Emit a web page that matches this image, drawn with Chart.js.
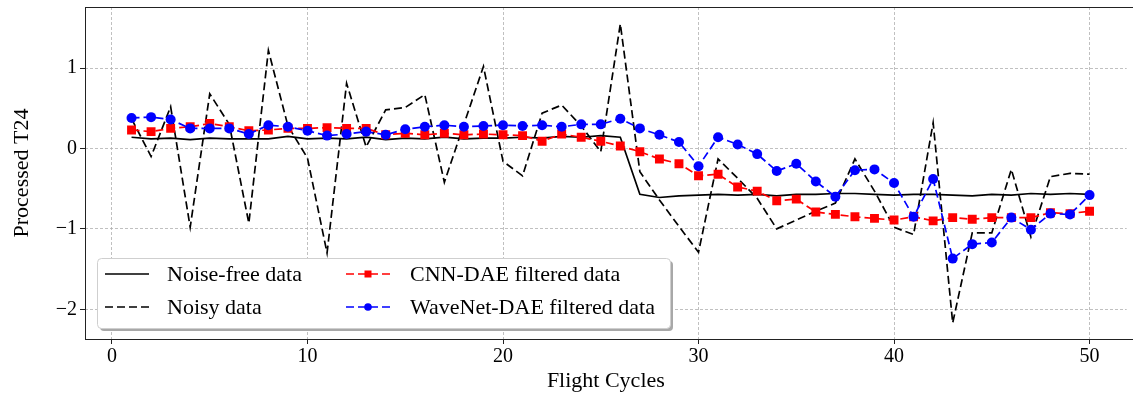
<!DOCTYPE html>
<html>
<head>
<meta charset="utf-8">
<script src="https://cdn.jsdelivr.net/npm/chart.js@4.4.0/dist/chart.umd.min.js"></script>
<style>
html, body { margin: 0; padding: 0; background: #fff; }
#wrap { position: relative; width: 1133px; height: 396px; }
</style>
</head>
<body>
<div id="wrap"><canvas id="t24Chart"></canvas></div>
<script>
var cycles = [1, 2, 3, 4, 5, 6, 7, 8, 9, 10, 11, 12, 13, 14, 15, 16, 17, 18, 19, 20, 21, 22, 23, 24, 25,
              26, 27, 28, 29, 30, 31, 32, 33, 34, 35, 36, 37, 38, 39, 40, 41, 42, 43, 44, 45, 46, 47, 48, 49, 50];

var noiseFree = [0.14, 0.12, 0.13, 0.11, 0.13, 0.12, 0.12, 0.12, 0.15, 0.12, 0.13, 0.12, 0.14, 0.11, 0.13,
                 0.12, 0.14, 0.12, 0.13, 0.13, 0.14, 0.13, 0.15, 0.14, 0.16, 0.14, -0.57, -0.61, -0.59, -0.58,
                 -0.57, -0.58, -0.57, -0.59, -0.57, -0.57, -0.56, -0.56, -0.57, -0.58, -0.57, -0.57, -0.58, -0.59, -0.57,
                 -0.58, -0.56, -0.57, -0.56, -0.57];

var noisy = [0.37, -0.10, 0.52, -0.98, 0.68, 0.30, -0.93, 1.22, 0.28, -0.12, -1.30, 0.81, 0.02, 0.48, 0.51,
             0.67, -0.42, 0.30, 1.02, -0.16, -0.34, 0.44, 0.54, 0.28, -0.04, 1.55, -0.29, -0.64, -0.97, -1.29,
             -0.13, -0.37, -0.62, -1.00, -0.89, -0.78, -0.68, -0.13, -0.53, -0.98, -1.07, 0.32, -2.17, -1.05, -1.05,
             -0.26, -1.10, -0.35, -0.31, -0.32];

var cnnDae = [0.23, 0.21, 0.25, 0.27, 0.31, 0.27, 0.22, 0.23, 0.25, 0.25, 0.26, 0.25, 0.25, 0.17, 0.19,
              0.17, 0.19, 0.17, 0.18, 0.17, 0.16, 0.09, 0.18, 0.14, 0.09, 0.03, -0.04, -0.13, -0.19, -0.34,
              -0.32, -0.48, -0.53, -0.65, -0.63, -0.79, -0.82, -0.85, -0.87, -0.89, -0.85, -0.90, -0.86, -0.88, -0.86,
              -0.86, -0.86, -0.80, -0.81, -0.78];

var waveNetDae = [0.38, 0.39, 0.36, 0.25, 0.25, 0.25, 0.18, 0.29, 0.27, 0.22, 0.16, 0.18, 0.21, 0.17, 0.24,
                  0.27, 0.29, 0.27, 0.28, 0.29, 0.28, 0.29, 0.27, 0.30, 0.30, 0.37, 0.25, 0.17, 0.08, -0.22,
                  0.14, 0.05, -0.07, -0.28, -0.19, -0.41, -0.60, -0.27, -0.26, -0.43, -0.85, -0.38, -1.37, -1.19, -1.17,
                  -0.86, -1.01, -0.81, -0.82, -0.58];

var xTicks = [0, 10, 20, 30, 40, 50];
var yTicks = [-2, -1, 0, 1];

var serif = "'Liberation Serif', 'Times New Roman', serif";
Chart.defaults.font.family = serif;
Chart.defaults.color = '#000';

function toXY(values) {
    return values.map(function (v, i) { return { x: cycles[i], y: v }; });
}

// cadre noir autour de la zone de tracé + légende à 2 colonnes façon matplotlib
var framePlugin = {
    id: 'frame',
    afterDatasetsDraw: function (chart) {
        var ctx = chart.ctx, a = chart.chartArea;
        ctx.save();
        ctx.strokeStyle = '#222';
        ctx.lineWidth = 1;
        ctx.strokeRect(a.left + 0.5, a.top + 0.5, a.right - a.left + 20, a.bottom - a.top);
        ctx.restore();
    }
};

var legendPlugin = {
    id: 'mplLegend',
    afterDraw: function (chart) {
        var ctx = chart.ctx;
        var ds = chart.data.datasets;
        var box = { x: 97, y: 258, w: 573, h: 70, r: 4 };
        ctx.save();
        // ombre
        ctx.fillStyle = '#a8a8a8';
        ctx.beginPath();
        ctx.roundRect(box.x + 3, box.y + 3, box.w, box.h, box.r);
        ctx.fill();
        ctx.fillStyle = '#fff';
        ctx.strokeStyle = '#cfcfcf';
        ctx.lineWidth = 1;
        ctx.beginPath();
        ctx.roundRect(box.x + 0.5, box.y + 0.5, box.w, box.h, box.r);
        ctx.fill();
        ctx.stroke();

        var slots = [
            { hx: 105, tx: 167, y: 274 },
            { hx: 105, tx: 167, y: 307 },
            { hx: 346, tx: 410, y: 274 },
            { hx: 346, tx: 410, y: 307 }
        ];
        var handleLen = 44;
        ds.forEach(function (d, i) {
            var s = slots[i];
            ctx.strokeStyle = d.borderColor;
            ctx.lineWidth = d.borderWidth;
            ctx.setLineDash(d.borderDash || []);
            ctx.beginPath();
            ctx.moveTo(s.hx, s.y);
            ctx.lineTo(s.hx + handleLen, s.y);
            ctx.stroke();
            ctx.setLineDash([]);
            if (d.pointRadius > 0) {
                ctx.fillStyle = d.backgroundColor;
                var cx = s.hx + handleLen / 2;
                if (d.pointStyle === 'rect') {
                    ctx.fillRect(cx - 3.5, s.y - 3.5, 7, 7);
                } else {
                    ctx.beginPath();
                    ctx.arc(cx, s.y, 3.8, 0, Math.PI * 2);
                    ctx.fill();
                }
            }
            ctx.fillStyle = '#000';
            ctx.font = '22px ' + serif;
            ctx.textBaseline = 'middle';
            ctx.textAlign = 'left';
            ctx.fillText(d.label, s.tx, s.y + 1);
        });
        ctx.restore();
    }
};

var ctx = document.getElementById('t24Chart').getContext('2d');
var t24Chart = new Chart(ctx, {
    type: 'line',
    data: {
        datasets: [{
            label: 'Noise-free data',
            data: toXY(noiseFree),
            borderColor: '#000',
            backgroundColor: '#000',
            borderWidth: 1.7,
            pointRadius: 0,
            order: 3
        }, {
            label: 'Noisy data',
            data: toXY(noisy),
            borderColor: '#000',
            backgroundColor: '#000',
            borderWidth: 1.7,
            borderDash: [8, 4],
            pointRadius: 0,
            order: 2
        }, {
            label: 'CNN-DAE filtered data',
            data: toXY(cnnDae),
            borderColor: '#ff0000',
            backgroundColor: '#ff0000',
            borderWidth: 1.7,
            borderDash: [8, 4],
            pointStyle: 'rect',
            pointRadius: 6.3,
            pointBorderWidth: 0,
            order: 1
        }, {
            label: 'WaveNet-DAE filtered data',
            data: toXY(waveNetDae),
            borderColor: '#0000ff',
            backgroundColor: '#0000ff',
            borderWidth: 1.7,
            borderDash: [8, 4],
            pointStyle: 'circle',
            pointRadius: 5,
            pointBorderWidth: 0,
            order: 0
        }]
    },
    options: {
        responsive: true,
        maintainAspectRatio: false,
        animation: false,
        layout: { padding: { top: 7, right: 0, bottom: 0, left: 0 } },
        plugins: {
            legend: { display: false },
            tooltip: { enabled: false }
        },
        scales: {
            x: {
                type: 'linear',
                min: -1.38,
                max: 51.9,
                afterBuildTicks: function (scale) {
                    scale.ticks = xTicks.map(function (v) { return { value: v }; });
                },
                afterFit: function (scale) {
                    scale.height = 57;
                    scale.paddingLeft = 0;
                    scale.paddingRight = 0;
                },
                ticks: { font: { size: 20 }, color: '#000', padding: 1, maxRotation: 0 },
                grid: { color: '#b0b0b0', lineWidth: 0.8, tickLength: 5, tickColor: '#222', tickWidth: 1 },
                border: { display: false, dash: [3, 2] },
                title: { display: true, text: 'Flight Cycles', font: { size: 22 }, color: '#000', padding: { top: 0, bottom: 2 } }
            },
            y: {
                type: 'linear',
                min: -2.37,
                max: 1.76,
                afterBuildTicks: function (scale) {
                    scale.ticks = yTicks.map(function (v) { return { value: v }; });
                },
                afterFit: function (scale) {
                    scale.width = 85;
                    scale.paddingTop = 0;
                    scale.paddingBottom = 0;
                },
                ticks: {
                    font: { size: 20 }, color: '#000', padding: 3,
                    callback: function (v) { return String(v).replace('-', '\u2212'); }
                },
                grid: { color: '#b0b0b0', lineWidth: 0.8, tickLength: 5, tickColor: '#222', tickWidth: 1 },
                border: { display: false, dash: [3, 2] },
                title: { display: true, text: 'Processed T24', font: { size: 22 }, color: '#000', padding: { top: 9, bottom: 0 } }
            }
        }
    },
    plugins: [framePlugin, legendPlugin]
});
</script>
</body>
</html>
